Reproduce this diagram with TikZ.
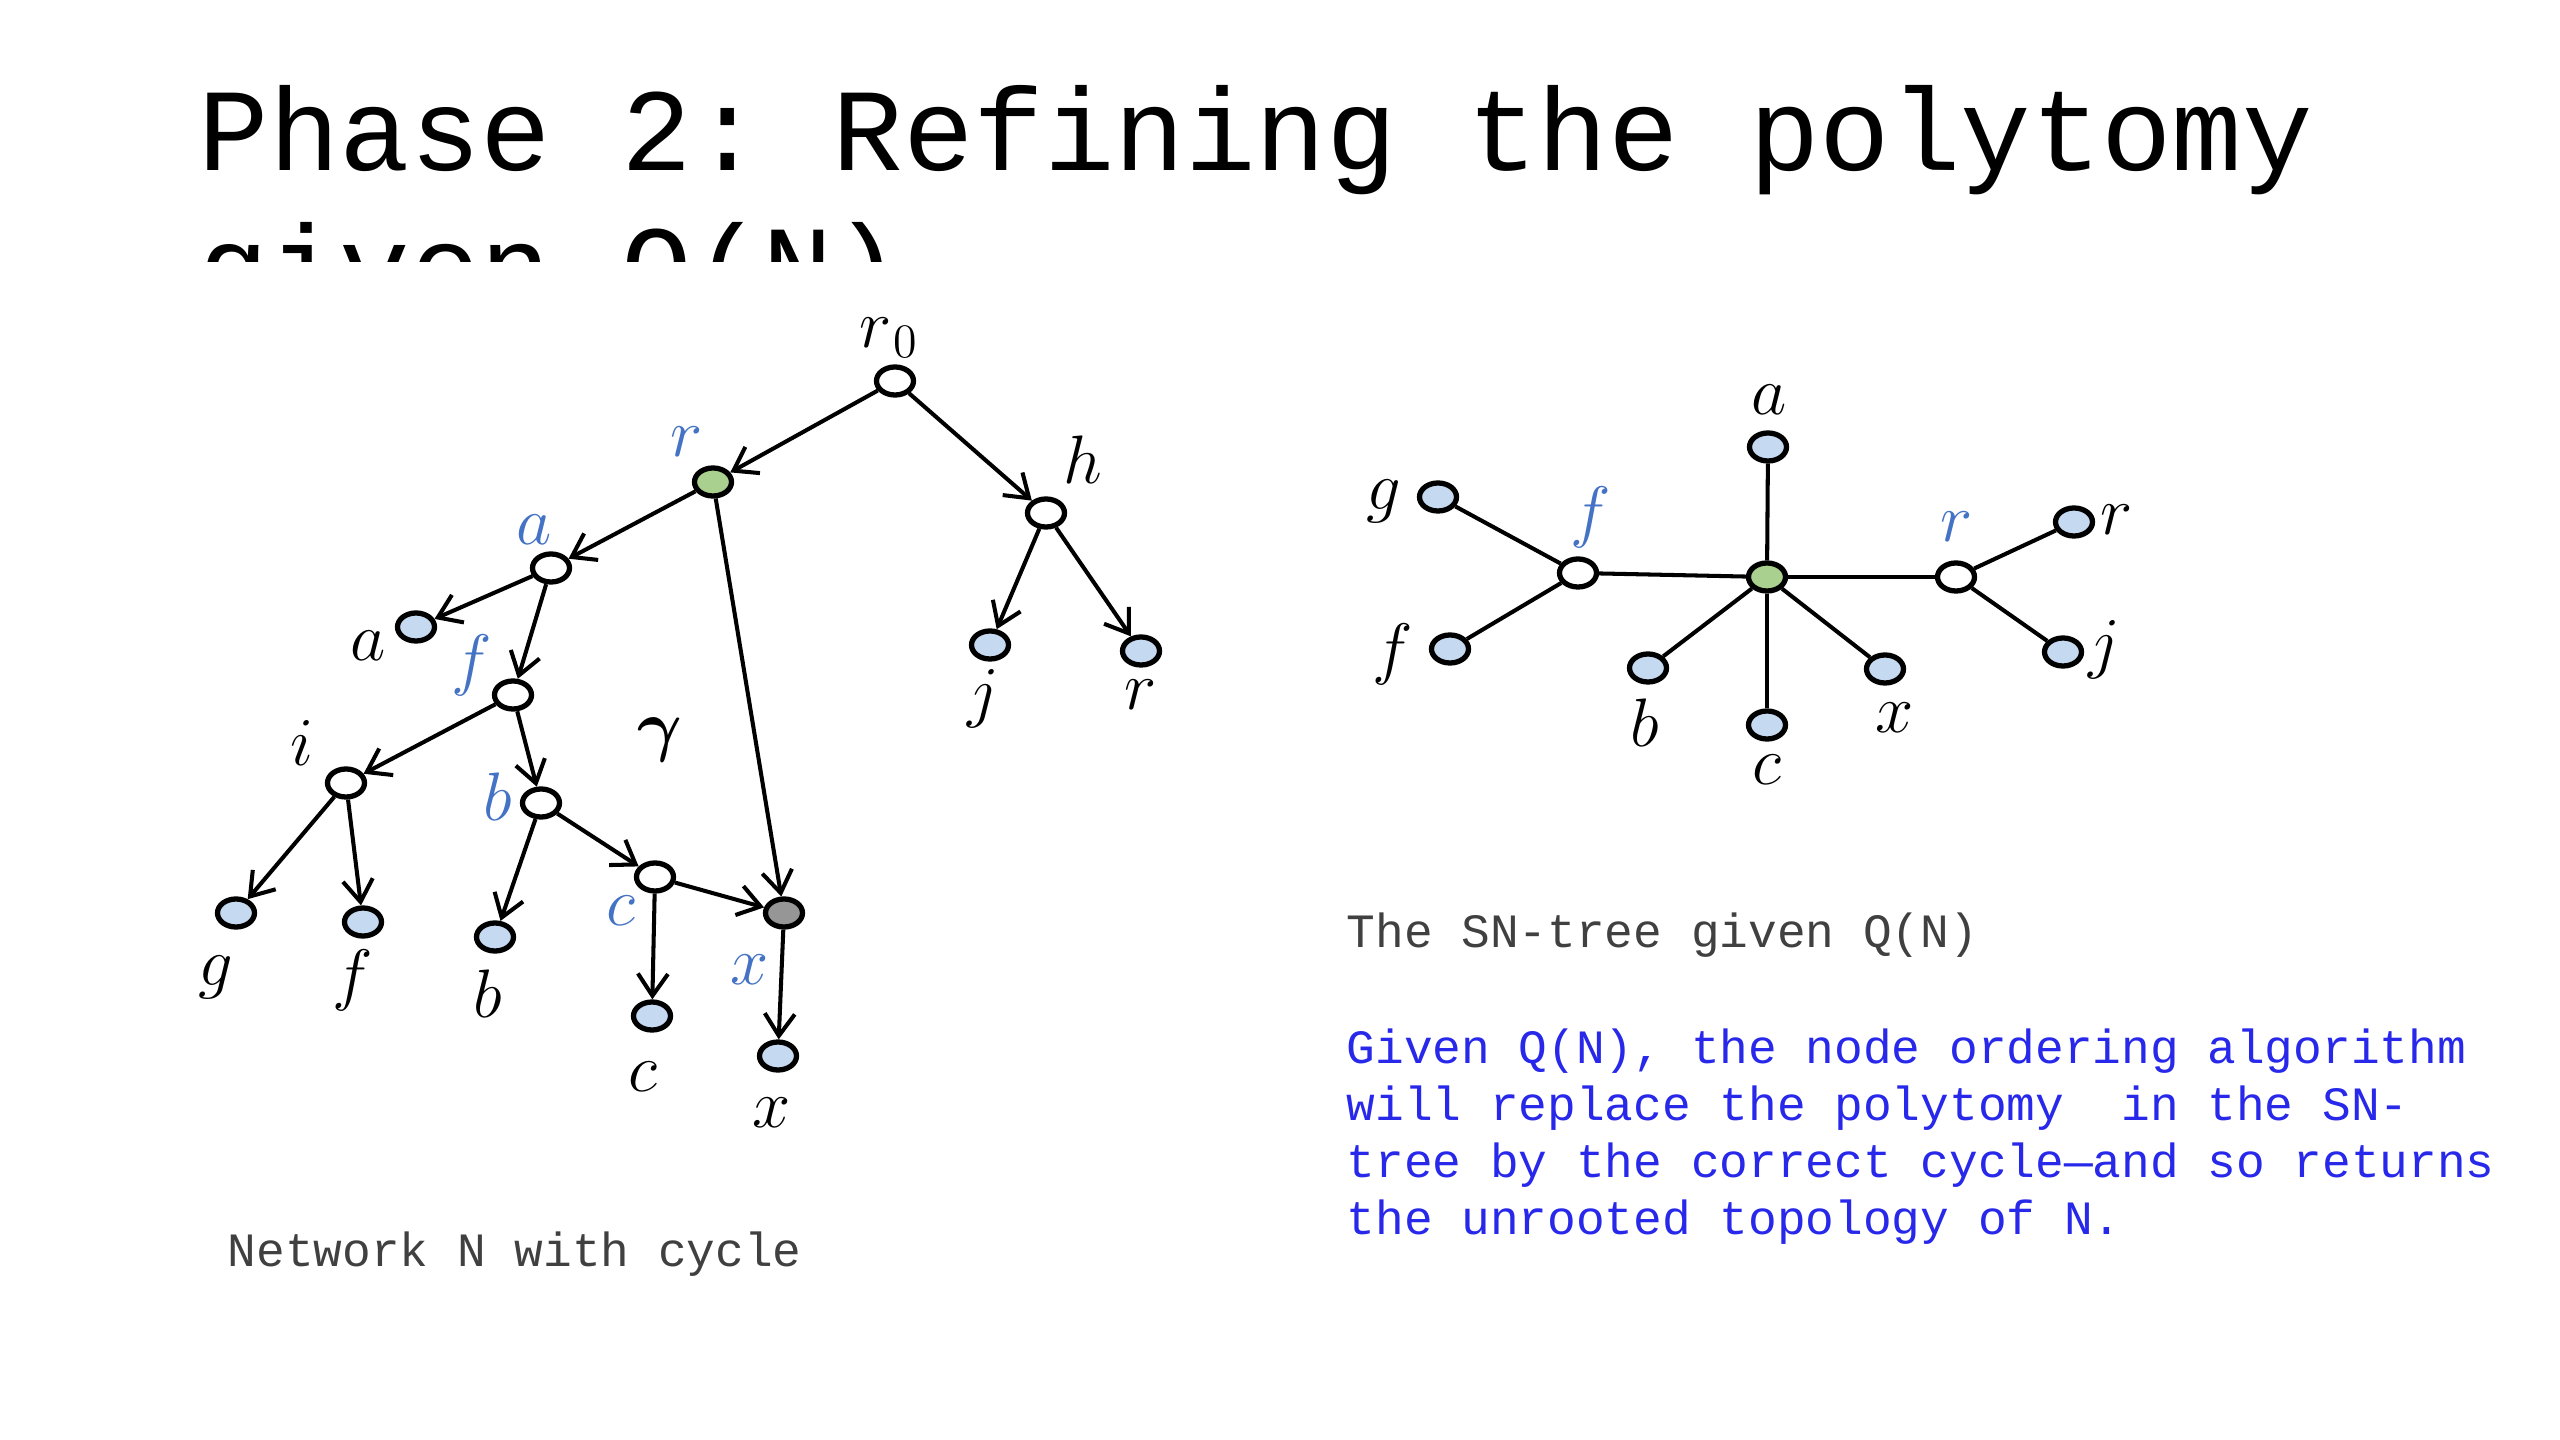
\RequirePackage{fix-cm}
\documentclass[tikz,border=0pt]{standalone}
\usepackage{amsmath}
\usepackage{bm}
\usepackage{fontspec}
\newfontfamily\courier{Liberation Mono}
\usepackage[usenames,dvipsnames]{xcolor}
\usepackage{tikz}
\usetikzlibrary{shapes.geometric,arrows.meta}
\frenchspacing

\definecolor{leafblue}{RGB}{197,217,240}
\definecolor{rootgreen}{RGB}{169,208,142}
\definecolor{retgray}{RGB}{150,150,150}
\definecolor{labelblue}{RGB}{68,114,196}
\definecolor{noteblue}{RGB}{40,40,235}

\tikzset{
  vtx/.style={ellipse, draw, line width=1.5pt, fill=white,
    minimum width=0.37cm, minimum height=0.28cm, inner sep=0pt},
  leaf/.style={vtx, fill=leafblue},
  arcto/.style={line width=1.15pt,
    -{Straight Barb[length=0.22cm, width=0.3cm, line width=1.15pt]}},
  link/.style={line width=1.15pt},
  lbl/.style={inner sep=0pt, font=\fontsize{19.5}{23}\selectfont},
  blbl/.style={lbl, text=labelblue},
  note/.style={inner sep=0pt, anchor=base west,
    font=\courier\fontsize{13.6}{16}\selectfont}
}

\begin{document}
\begin{tikzpicture}[x=0.01cm, y=-0.01cm]
    \useasboundingbox (0,0) rectangle (2560,1440);

    % title, cut off below the first line
    \begin{scope}
      \clip (0,0) rectangle (2560,262);
      \node (title1) [inner sep=0pt, anchor=base west,
        font=\courier\fontsize{33.4}{40}\selectfont] at (198,171)
        {Phase 2: Refining the polytomy};
      \node (title2) [inner sep=0pt, anchor=base west,
        text height=0.5cm, text depth=0pt,
        font=\courier\fontsize{33.4}{40}\selectfont] at (198,308)
        {given Q(N)};
    \end{scope}

    % network N
    \node (r0) [vtx] at (895, 381) {};
    \node (rr) [vtx, fill=rootgreen] at (713, 482) {};
    \node (h)  [vtx] at (1046, 513) {};
    \node (ai) [vtx] at (551, 568) {};
    \node (al) [leaf] at (416, 627) {};
    \node (fi) [vtx] at (513, 695) {};
    \node (ii) [vtx] at (346, 783) {};
    \node (bi) [vtx] at (541, 803) {};
    \node (ci) [vtx] at (655, 877) {};
    \node (xg) [vtx, fill=retgray] at (784, 913) {};
    \node (gl) [leaf] at (236, 913) {};
    \node (fl) [leaf] at (363, 922) {};
    \node (bl) [leaf] at (495, 937) {};
    \node (cl) [leaf] at (652, 1016) {};
    \node (xl) [leaf] at (778, 1056) {};
    \node (jl) [leaf] at (990, 645) {};
    \node (rl) [leaf] at (1141, 651) {};

    \draw [arcto] (r0) -- (rr);
    \draw [arcto] (r0) -- (h);
    \draw [arcto] (rr) -- (ai);
    \draw [arcto] (rr) -- (xg);
    \draw [arcto] (ai) -- (al);
    \draw [arcto] (ai) -- (fi);
    \draw [arcto] (fi) -- (ii);
    \draw [arcto] (fi) -- (bi);
    \draw [arcto] (ii) -- (gl);
    \draw [arcto] (ii) -- (fl);
    \draw [arcto] (bi) -- (bl);
    \draw [arcto] (bi) -- (ci);
    \draw [arcto] (ci) -- (cl);
    \draw [arcto] (ci) -- (xg);
    \draw [arcto] (xg) -- (xl);
    \draw [arcto] (h) -- (jl);
    \draw [arcto] (h) -- (rl);

    \node (lr0) [lbl] at (889, 338) {$r_{\mkern1.5mu 0}$};
    \node (lrr) [blbl] at (687, 442) {$r$};
    \node (lh)  [lbl] at (1083, 460) {$h$};
    \node (lai) [blbl] at (534, 530) {$a$};
    \node (lal) [lbl] at (368, 646) {$a$};
    \node (lfi) [blbl] at (472, 665) {$f$};
    \node (lii) [lbl] at (302, 743) {$i$};
    \node (lbi) [blbl] at (498, 797) {$b$};
    \node (lci) [blbl] at (621, 911) {$c$};
    \node (lxg) [blbl] at (750, 970) {$x$};
    \node (lgl) [lbl] at (216, 977) {$g$};
    \node (lfl) [lbl] at (353, 980) {$f$};
    \node (lbl) [lbl] at (488, 994) {$b$};
    \node (lcl) [lbl] at (643, 1077) {$c$};
    \node (lxl) [lbl] at (772, 1113) {$x$};
    \node (ljl) [lbl] at (983, 699) {$j$};
    \node (lrl) [lbl] at (1141, 695) {$r$};
    \node (lgamma) [lbl] at (660, 740) {$\bm{\gamma}$};

    \node (capnet) [note, text=black!75] at (227, 1266) {Network N with cycle};

    % SN-tree
    \node (sctr) [vtx, fill=rootgreen] at (1767, 577) {};
    \node (sfi) [vtx] at (1578, 573) {};
    \node (sri) [vtx] at (1956, 577) {};
    \node (sal) [leaf] at (1768, 447) {};
    \node (scl) [leaf] at (1767, 725) {};
    \node (sbl) [leaf] at (1648, 668) {};
    \node (sxl) [leaf] at (1885, 669) {};
    \node (sgl) [leaf] at (1438, 497) {};
    \node (sfl) [leaf] at (1450, 649) {};
    \node (srl) [leaf] at (2074, 522) {};
    \node (sjl) [leaf] at (2063, 652) {};

    \draw [link] (sctr) -- (sal);
    \draw [link] (sctr) -- (scl);
    \draw [link] (sctr) -- (sbl);
    \draw [link] (sctr) -- (sxl);
    \draw [link] (sctr) -- (sfi);
    \draw [link] (sctr) -- (sri);
    \draw [link] (sfi) -- (sgl);
    \draw [link] (sfi) -- (sfl);
    \draw [link] (sri) -- (srl);
    \draw [link] (sri) -- (sjl);

    \node (lsal) [lbl] at (1769, 400) {$a$};
    \node (lsfi) [blbl] at (1591, 517) {$f$};
    \node (lsri) [blbl] at (1957, 527) {$r$};
    \node (lsbl) [lbl] at (1645, 723) {$b$};
    \node (lscl) [lbl] at (1767, 770) {$c$};
    \node (lsxl) [lbl] at (1895, 718) {$x$};
    \node (lsrl) [lbl] at (2117, 520) {$r$};
    \node (lsjl) [lbl] at (2104, 650) {$j$};
    \node (lsgl) [lbl] at (1384, 501) {$g$};
    \node (lsfl) [lbl] at (1393, 654) {$f$};

    \node (capsn) [note, text=black!75] at (1346, 948) {The SN-tree given Q(N)};

    \foreach \txt [count=\k from 0] in
      {{Given Q(N), the node ordering algorithm},
       {will replace the polytomy\ \ in the SN-},
       {tree by the correct cycle—and so returns},
       {the unrooted topology of N.}}
      \node (note\k) [note, text=noteblue] at (1346, 1063+57*\k) {\txt};
\end{tikzpicture}
\end{document}
